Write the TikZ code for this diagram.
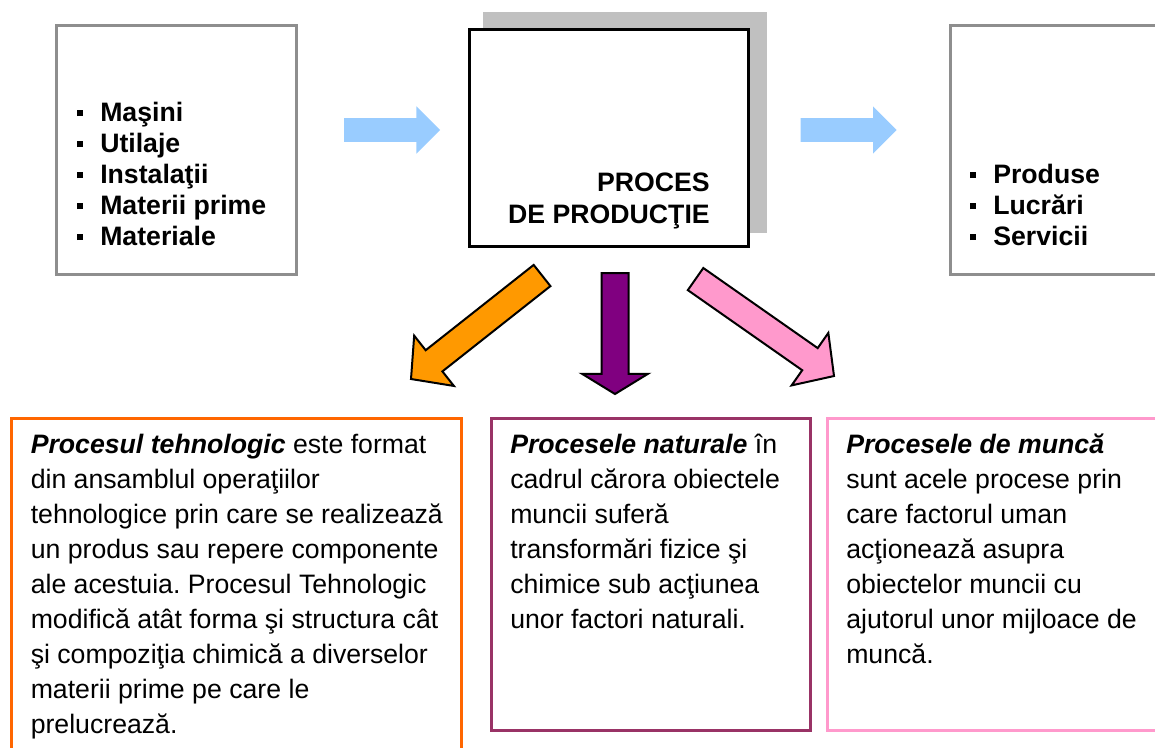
\documentclass[tikz,border=0pt]{standalone}
\usepackage{fontspec}
\setmainfont{Liberation Sans}
\usetikzlibrary{shapes.arrows}
\frenchspacing
\definecolor{boxgray}{HTML}{8E8E8E}
\definecolor{shadowgray}{HTML}{C0C0C0}
\definecolor{lightblue}{HTML}{99CCFF}
\definecolor{orangeline}{HTML}{FF6600}
\definecolor{orangefill}{HTML}{FF9900}
\definecolor{plumline}{HTML}{993366}
\definecolor{plumfill}{HTML}{800080}
\definecolor{roseline}{HTML}{FF99CC}
\newcommand{\bul}{\makebox[17.25pt][l]{\raisebox{3.75pt}{\rule{4.5pt}{4.5pt}}}}
\tikzset{
  framebox/.style={line width=2.25pt},
  listtext/.style={font=\fontsize{20pt}{23.25pt}\selectfont\bfseries,align=left,inner sep=0pt,anchor=base west},
  bodytext/.style={font=\fontsize{20pt}{26.25pt}\selectfont,align=left,inner sep=0pt,anchor=base west},
  blockarrow/.style={single arrow,draw=black,line width=1.5pt,inner sep=0pt,outer sep=0pt,
    minimum width=0pt,anchor=tip},
  flowarrow/.style={single arrow,fill=lightblue,inner sep=0pt,outer sep=0pt,minimum width=0pt,
    minimum height=72pt,single arrow head extend=8.7pt,single arrow tip angle=90,anchor=tip}
}
\begin{document}
\begin{tikzpicture}[x=0.75pt,y=-0.75pt]
  \clip (0,0) rectangle (1155,747);
  % top row (text nodes sit on their last baseline)
  \draw[framebox,draw=boxgray] (56.5,25.5) rectangle (296.5,274.5);
  \fill[shadowgray] (483,12) rectangle (767,233);
  \draw[framebox,fill=white] (469.5,29.5) rectangle (748.5,246.5);
  \draw[framebox,draw=boxgray] (950,25.5) rectangle (1175,274.5);
  \node[listtext] (inputs) at (77,245) {\bul Maşini\\ \bul Utilaje\\ \bul Instalaţii\\ \bul Materii prime\\ \bul Materiale};
  \node[listtext,anchor=base east,align=right,font=\fontsize{20pt}{24pt}\selectfont\bfseries] (proces) at (710,223) {PROCES\\DE PRODUCŢIE};
  \node[listtext] (outputs) at (970,245) {\bul Produse\\ \bul Lucrări\\ \bul Servicii};
  \node[flowarrow] (flowin) at (440,130) {\rule{0pt}{17.5pt}};
  \node[flowarrow] (flowout) at (896.7,130) {\rule{0pt}{17.5pt}};
  % arrows down
  \node[blockarrow,fill=orangefill,minimum height=125.25pt,single arrow head extend=13.9pt,
    single arrow tip angle=95,rotate=218.3] (tehnarrow) at (411,379) {\rule{0pt}{18.75pt}};
  \node[blockarrow,fill=plumfill,minimum height=90.75pt,single arrow head extend=14.6pt,
    single arrow tip angle=117,rotate=270] (natarrow) at (615,394) {\rule{0pt}{18.75pt}};
  \node[blockarrow,fill=roseline,minimum height=126.75pt,single arrow head extend=13.9pt,
    single arrow tip angle=95,rotate=-35] (muncaarrow) at (834,376) {\rule{0pt}{18.75pt}};
  % bottom row
  \draw[framebox,draw=orangeline] (11,418) rectangle (461.5,780);
  \draw[framebox,draw=plumline] (491,418) rectangle (810,730);
  \draw[framebox,draw=roseline] (827,418) rectangle (1175,730);
  \node[bodytext] (tehn) at (30.5,733) {\textbf{\textit{Procesul tehnologic}} este format\\ din ansamblul operaţiilor\\ tehnologice prin care se realizează\\ un produs sau repere componente\\ ale acestuia. Procesul Tehnologic\\ modifică atât forma şi structura cât\\ şi compoziţia chimică a diverselor\\ materii prime pe care le\\ prelucrează.};
  \node[bodytext] (nat) at (510,628) {\textbf{\textit{Procesele naturale}} în\\ cadrul cărora obiectele\\ muncii suferă\\ transformări fizice şi\\ chimice sub acţiunea\\ unor factori naturali.};
  \node[bodytext] (munca) at (846,663) {\textbf{\textit{Procesele de muncă}}\\ sunt acele procese prin\\ care factorul uman\\ acţionează asupra\\ obiectelor muncii cu\\ ajutorul unor mijloace de\\ muncă.};
\end{tikzpicture}
\end{document}
